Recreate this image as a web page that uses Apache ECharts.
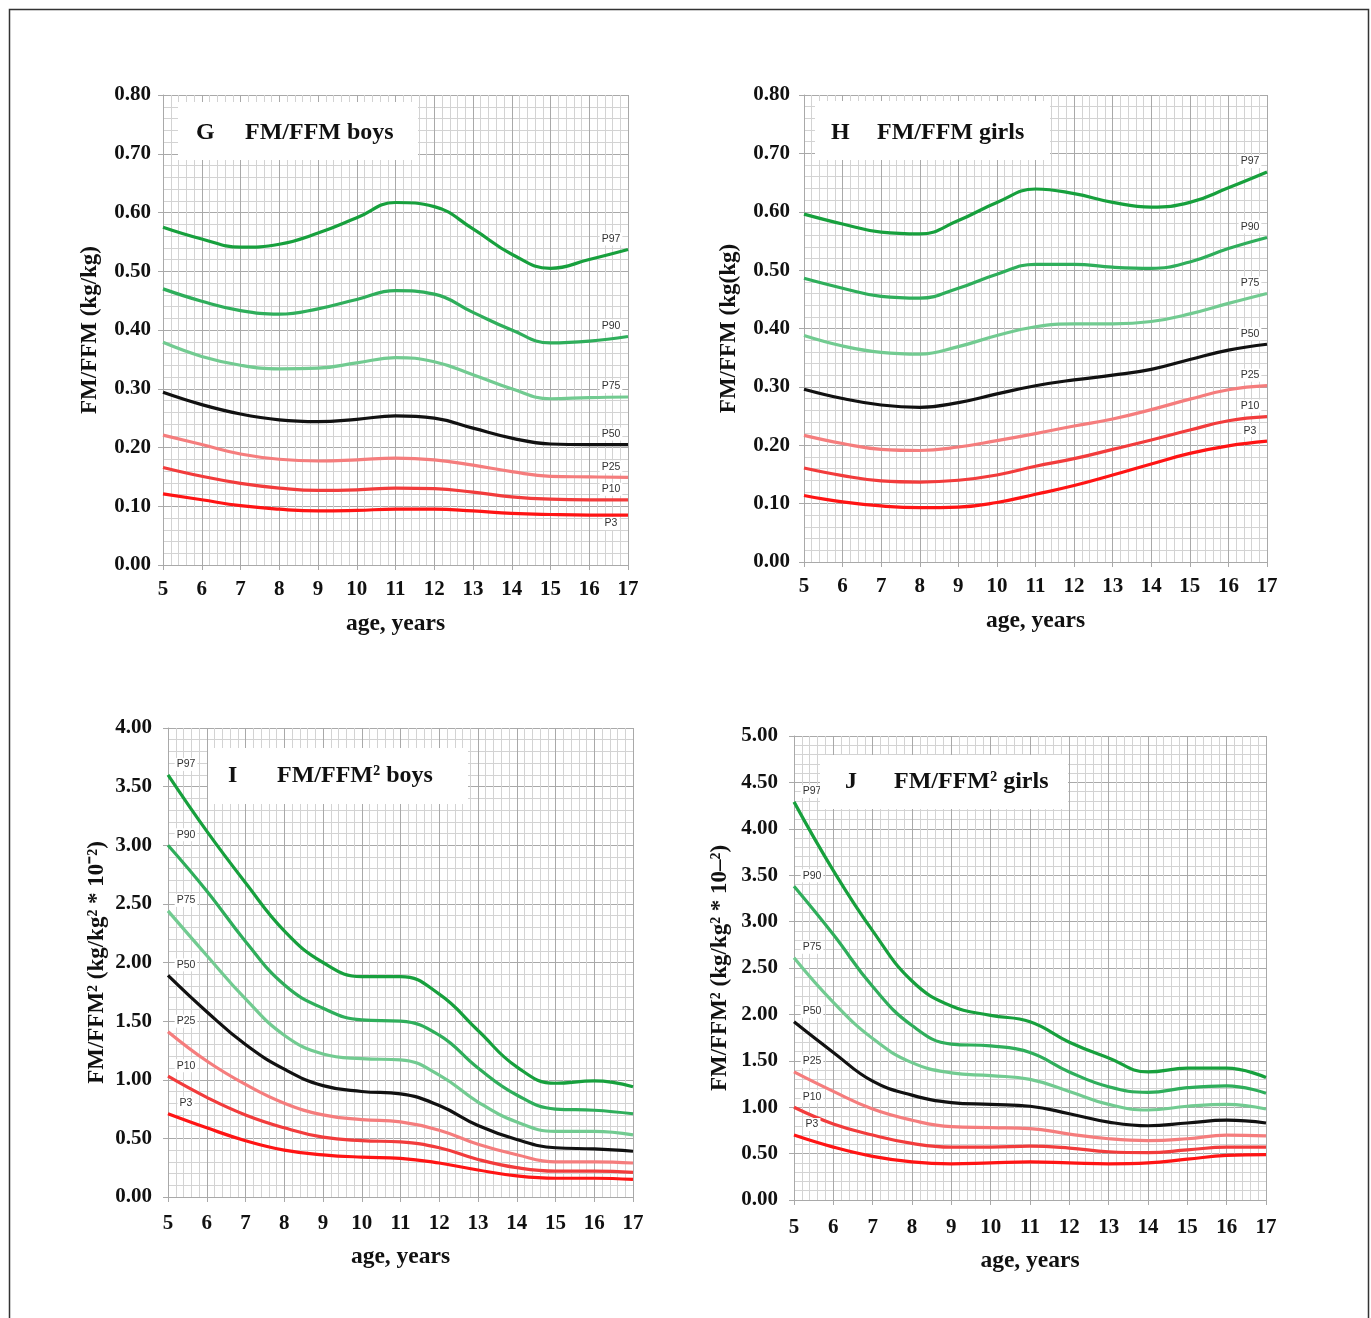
<!DOCTYPE html>
<html><head><meta charset="utf-8">
<script src="https://cdn.jsdelivr.net/npm/echarts@6/dist/echarts.min.js"></script>
<style>html,body{margin:0;padding:0;background:#fff}#c{width:1371px;height:1318px}</style>
</head><body><div id="c"></div>
<script>
const ages = [5,6,7,8,9,10,11,12,13,14,15,16,17];
const pctNames = ['P97','P90','P75','P50','P25','P10','P3'];

// G: FM/FFM boys
const boysFM_P97 = [0.575,0.555,0.541,0.546,0.565,0.591,0.617,0.610,0.572,0.529,0.505,0.520,0.537];
const boysFM_P90 = [0.470,0.449,0.433,0.427,0.436,0.452,0.467,0.461,0.430,0.400,0.378,0.381,0.389];
const boysFM_P75 = [0.379,0.355,0.340,0.334,0.335,0.344,0.353,0.346,0.324,0.300,0.283,0.285,0.286];
const boysFM_P50 = [0.294,0.273,0.257,0.247,0.244,0.248,0.254,0.250,0.233,0.216,0.206,0.205,0.205];
const boysFM_P25 = [0.221,0.205,0.189,0.180,0.177,0.179,0.182,0.179,0.170,0.159,0.151,0.150,0.149];
const boysFM_P10 = [0.166,0.151,0.139,0.131,0.127,0.128,0.131,0.130,0.124,0.116,0.112,0.111,0.111];
const boysFM_P3  = [0.121,0.111,0.101,0.095,0.092,0.093,0.095,0.095,0.092,0.088,0.086,0.085,0.085];

// H: FM/FFM girls
const girlsFM_P97 = [0.596,0.579,0.565,0.562,0.585,0.616,0.639,0.631,0.616,0.608,0.616,0.641,0.668];
const girlsFM_P90 = [0.486,0.469,0.455,0.452,0.469,0.493,0.510,0.510,0.505,0.503,0.514,0.537,0.556];
const girlsFM_P75 = [0.388,0.370,0.359,0.356,0.369,0.388,0.403,0.408,0.408,0.412,0.425,0.443,0.460];
const girlsFM_P50 = [0.296,0.280,0.269,0.265,0.273,0.288,0.302,0.312,0.320,0.330,0.347,0.363,0.373];
const girlsFM_P25 = [0.217,0.203,0.193,0.191,0.197,0.208,0.220,0.233,0.245,0.261,0.279,0.295,0.302];
const girlsFM_P10 = [0.161,0.148,0.139,0.137,0.140,0.149,0.164,0.177,0.193,0.209,0.226,0.242,0.249];
const girlsFM_P3  = [0.114,0.103,0.096,0.093,0.094,0.102,0.116,0.131,0.149,0.168,0.186,0.199,0.207];

// I: FM/FFM² boys
const boysFM2_P97 = [3.60,3.12,2.68,2.27,2.00,1.88,1.88,1.73,1.42,1.11,0.97,0.99,0.94];
const boysFM2_P90 = [3.00,2.61,2.18,1.81,1.61,1.51,1.50,1.38,1.10,0.87,0.75,0.74,0.71];
const boysFM2_P75 = [2.44,2.06,1.69,1.38,1.22,1.18,1.17,1.04,0.81,0.64,0.56,0.56,0.53];
const boysFM2_P50 = [1.89,1.58,1.30,1.09,0.95,0.90,0.88,0.78,0.61,0.49,0.42,0.41,0.39];
const boysFM2_P25 = [1.41,1.16,0.96,0.80,0.70,0.66,0.64,0.57,0.45,0.36,0.30,0.30,0.29];
const boysFM2_P10 = [1.03,0.85,0.70,0.59,0.51,0.48,0.47,0.42,0.32,0.25,0.22,0.22,0.21];
const boysFM2_P3  = [0.71,0.59,0.48,0.40,0.36,0.34,0.33,0.29,0.23,0.18,0.16,0.16,0.15];

// J: FM/FFM² girls
const girlsFM2_P97 = [4.29,3.55,2.90,2.36,2.09,1.99,1.92,1.70,1.53,1.38,1.42,1.42,1.32];
const girlsFM2_P90 = [3.38,2.86,2.30,1.88,1.68,1.66,1.59,1.38,1.22,1.16,1.21,1.23,1.15];
const girlsFM2_P75 = [2.61,2.13,1.74,1.48,1.37,1.34,1.30,1.17,1.03,0.97,1.01,1.03,0.98];
const girlsFM2_P50 = [1.92,1.59,1.28,1.13,1.05,1.03,1.01,0.93,0.84,0.80,0.83,0.86,0.83];
const girlsFM2_P25 = [1.38,1.17,0.98,0.86,0.79,0.78,0.77,0.71,0.66,0.64,0.66,0.70,0.69];
const girlsFM2_P10 = [1.00,0.82,0.70,0.61,0.57,0.57,0.58,0.56,0.52,0.51,0.54,0.57,0.57];
const girlsFM2_P3  = [0.70,0.57,0.47,0.41,0.39,0.40,0.41,0.40,0.39,0.40,0.44,0.48,0.49];

const panels = [
  {letter:'G', title:'FM/FFM boys', yName:'FM/FFM (kg/kg)', max:0.8, interval:0.1,
   series:[boysFM_P97,boysFM_P90,boysFM_P75,boysFM_P50,boysFM_P25,boysFM_P10,boysFM_P3], labelsAtEnd:true},
  {letter:'H', title:'FM/FFM girls', yName:'FM/FFM (kg(kg)', max:0.8, interval:0.1,
   series:[girlsFM_P97,girlsFM_P90,girlsFM_P75,girlsFM_P50,girlsFM_P25,girlsFM_P10,girlsFM_P3], labelsAtEnd:true},
  {letter:'I', title:'FM/FFM² boys', yName:'FM/FFM² (kg/kg² * 10⁻²)', max:4, interval:0.5,
   series:[boysFM2_P97,boysFM2_P90,boysFM2_P75,boysFM2_P50,boysFM2_P25,boysFM2_P10,boysFM2_P3], labelsAtEnd:false},
  {letter:'J', title:'FM/FFM² girls', yName:'FM/FFM² (kg/kg² * 10–²)', max:5, interval:0.5,
   series:[girlsFM2_P97,girlsFM2_P90,girlsFM2_P75,girlsFM2_P50,girlsFM2_P25,girlsFM2_P10,girlsFM2_P3], labelsAtEnd:false}
];

const colors = ['#17a03d','#2fae5b','#72cb91','#111111','#f57d7d','#f23c3c','#ff1414'];
const grids = [
  {left:163, top:95, width:465, height:470},
  {left:804, top:95, width:463, height:467},
  {left:168, top:728, width:465, height:469},
  {left:794, top:736, width:472, height:464}
];
const xLabelMargin = [14, 14, 16, 17];
const yLabelMargin = [12, 14, 16, 16];
const xNameGap = [47, 47, 48, 49];
const yNameGap = [61, 63, 59, 62];
const boxes = [
  {x:178, y:102, w:240, h:58},
  {x:815, y:101, w:235, h:59},
  {x:208, y:748, w:260, h:56},
  {x:820, y:755, w:248, h:54}
];
const letterLeft = [196, 831, 228, 845];
const titleLeft = [245, 877, 277, 894];
const textTop = [121, 121, 764, 770];

const serif = '"Liberation Serif","Times New Roman",serif';
const gridLineMajor = '#a9a9a9';
const gridLineMinor = '#d3d3d3';

const option = {
  animation:false,
  backgroundColor:'#fff',
  grid: grids,
  xAxis: [], yAxis: [], series: [],
  graphic: []
};

panels.forEach((p, gi) => {
  option.xAxis.push({
    type:'value', gridIndex:gi, min:5, max:17, interval:1,
    name:'age, years', nameLocation:'middle', nameGap:xNameGap[gi],
    nameTextStyle:{fontFamily:serif, fontWeight:'bold', fontSize:23.5, color:'#111'},
    axisLine:{show:true, lineStyle:{color:gridLineMajor, width:1}},
    axisTick:{show:true, length:5, lineStyle:{color:gridLineMajor}},
    axisLabel:{fontFamily:serif, fontWeight:'bold', fontSize:21, color:'#111', margin:xLabelMargin[gi]},
    splitLine:{show:true, lineStyle:{color:gridLineMajor, width:1}},
    minorTick:{show:false, splitNumber:5},
    minorSplitLine:{show:true, lineStyle:{color:gridLineMinor, width:1}}
  });
  option.yAxis.push({
    type:'value', gridIndex:gi, min:0, max:p.max, interval:p.interval,
    name:p.yName, nameLocation:'middle', nameGap:yNameGap[gi],
    nameTextStyle:{fontFamily:serif, fontWeight:'bold', fontSize:23, color:'#111'},
    axisLine:{show:true, lineStyle:{color:gridLineMajor, width:1}},
    axisTick:{show:true, length:5, lineStyle:{color:gridLineMajor}},
    axisLabel:{fontFamily:serif, fontWeight:'bold', fontSize:21, color:'#111', margin:yLabelMargin[gi],
      formatter:v => v.toFixed(2)},
    splitLine:{show:true, lineStyle:{color:gridLineMajor, width:1}},
    minorTick:{show:false, splitNumber:5},
    minorSplitLine:{show:true, lineStyle:{color:gridLineMinor, width:1}}
  });
  const lblStyle = {fontFamily:'"Liberation Sans",Arial,sans-serif', fontSize:10.5, color:'#333',
    backgroundColor:'#fff', padding:[1,2]};
  const n = ages.length;
  p.series.forEach((vals, si) => {
    const name = pctNames[si];
    const data = ages.map((a, i) => {
      const item = {value:[a, vals[i]]};
      if (!p.labelsAtEnd && i === 0) {
        item.label = Object.assign({show:true, position:'top', distance:4, offset:[18,0],
          formatter:name}, lblStyle);
      }
      if (p.labelsAtEnd && i === n - 1) {
        const below = (gi === 0 && name === 'P3');
        item.label = Object.assign({show:true, position: below ? 'bottom' : 'top',
          distance: below ? 2 : 4, offset:[-17,0], formatter:name}, lblStyle);
      }
      return item;
    });
    option.series.push({
      type:'line', name:name, xAxisIndex:gi, yAxisIndex:gi, data:data,
      smooth:0.45, symbol:'circle', symbolSize:0.01, showSymbol:true,
      lineStyle:{color:colors[si], width:3.2}, itemStyle:{color:colors[si]},
      label:{show:false}, silent:true, z:5
    });
  });
  const b = boxes[gi];
  option.graphic.push({type:'rect', left:b.x, top:b.y, z:100,
    shape:{x:0, y:0, width:b.w, height:b.h}, style:{fill:'#ffffff', stroke:null}});
  option.graphic.push({type:'text', left:letterLeft[gi], top:textTop[gi], z:101,
    style:{text:p.letter, font:'bold 24px ' + serif, fill:'#111'}});
  option.graphic.push({type:'text', left:titleLeft[gi], top:textTop[gi], z:101,
    style:{text:p.title, font:'bold 24px ' + serif, fill:'#111'}});
});

option.graphic.push({type:'rect', left:7, top:7, z:0,
  shape:{x:0, y:0, width:1359, height:1330}, style:{fill:'none', stroke:'#333', lineWidth:1.5}});

const chart = echarts.init(document.getElementById('c'), null, {renderer:'canvas'});
chart.setOption(option);
</script>
</body></html>
